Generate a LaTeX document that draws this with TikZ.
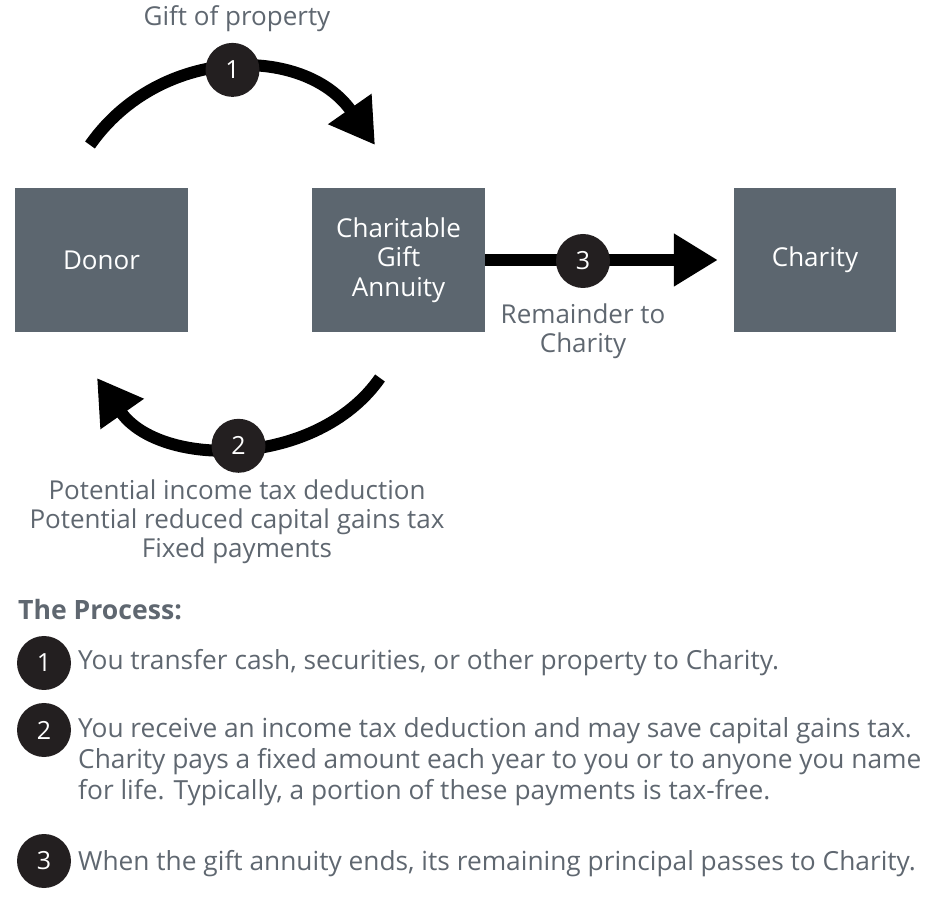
\documentclass[tikz,border=0pt]{standalone}
\usepackage{fontspec}
\setmainfont{Open Sans}
\usetikzlibrary{arrows.meta}
\definecolor{slate}{HTML}{5C666F}
\definecolor{txtgray}{HTML}{5F6770}
\definecolor{dotblack}{HTML}{231F20}
\tikzset{
  box/.style={fill=slate, text=white, minimum height=144pt, align=center,
    font=\fontsize{26}{29.5}\selectfont},
  numdot/.style={circle, fill=dotblack, text=white, minimum size=54pt,
    inner sep=0pt, font=\fontsize{25}{25}\selectfont},
  flow/.style={line width=12pt, -{Triangle[length=44pt,width=50pt]}},
  lbl/.style={text=txtgray, align=center, font=\fontsize{26}{29}\selectfont},
  item/.style={text=txtgray, align=left, anchor=base west, inner sep=0pt,
    font=\fontsize{26.3}{31}\selectfont},
}
\begin{document}
\begin{tikzpicture}[x=1pt,y=1pt]
\useasboundingbox (0,0) rectangle (932,903);
% boxes
\node[box, minimum width=173pt] (donor) at (101.5,643) {Donor};
\node[box, minimum width=173pt] (cga) at (398.5,643) {Charitable\\Gift\\Annuity};
\node[box, minimum width=162pt] (charity) at (815,643) {Charity};
% gift of property
\coordinate (s1) at (90,758);
\coordinate (t1) at (375,758);
\draw[flow] (s1) to[out=55,in=125,looseness=1.1] node[numdot] (n1) {1} (t1);
\node[lbl] (giftlbl) at (237,884) {Gift of property};
% payments back
\coordinate (s2) at (380,525);
\coordinate (t2) at (97,525);
\draw[flow] (s2) to[out=235,in=-55] node[numdot] (n2) {2} (t2);
\node[lbl, anchor=north] (paylbl) at (237,427)
  {Potential income tax deduction\\Potential reduced capital gains tax\\Fixed payments};
% remainder
\draw[flow, shorten >=16pt] (cga.east) -- (charity.west);
\node[numdot] (n3) at (583,642) {3};
\node[lbl, anchor=north] (remlbl) at (583,603) {Remainder to\\Charity};
% the process
\node[text=txtgray, anchor=base west, inner sep=0pt,
  font=\fontsize{26.6}{29}\selectfont\bfseries] (proc) at (18,283) {The Process:};
\node[numdot] (d1) at (44,240) {1};
\node[item] (i1) at (78,233) {You transfer cash, securities, or other property to Charity.};
\node[numdot] (d2) at (44,173) {2};
\node[item] (i2) at (78,104) {You receive an income tax deduction and may save capital gains tax.\\
  Charity pays a fixed amount each year to you or to anyone you name\\
  for life. Typically, a portion of these payments is tax-free.};
\node[numdot] (d3) at (44,42) {3};
\node[item] (i3) at (78,33) {When the gift annuity ends, its remaining principal passes to Charity.};
\end{tikzpicture}
\end{document}
